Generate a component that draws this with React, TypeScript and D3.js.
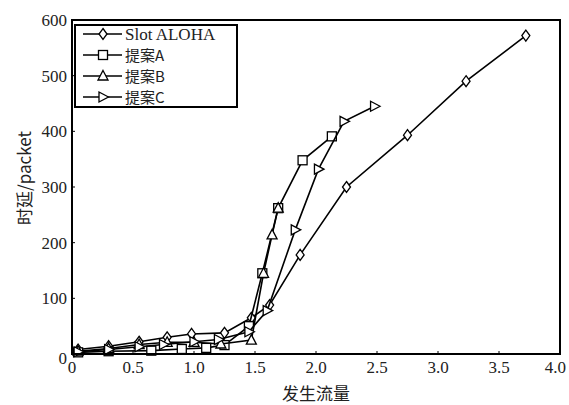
import React from "react";
import * as d3 from "d3";

const W = 569, H = 405;
const M = { left: 72, right: 560, top: 20, bottom: 354 };

const xTicks = [0, 0.5, 1.0, 1.5, 2.0, 2.5, 3.0, 3.5, 4.0];
const xTickLabels = ["0", "0.5", "1.0", "1.5", "2.0", "2.5", "3.0", "3.5", "4.0"];
const yTicks = [0, 100, 200, 300, 400, 500, 600];
const yTickLabels = ["0", "100", "200", "300", "400", "500", "600"];

const slotX = [0.05, 0.3, 0.55, 0.78, 0.98, 1.25, 1.47, 1.62, 1.87, 2.25, 2.75, 3.23, 3.72];
const slotY = [8, 14, 22, 30, 36, 38, 65, 88, 178, 300, 393, 490, 572];
const aX = [0.05, 0.3, 0.65, 0.9, 1.1, 1.25, 1.45, 1.56, 1.69, 1.89, 2.13];
const aY = [3, 5, 6, 9, 11, 16, 50, 145, 262, 348, 391];
const bX = [0.05, 0.3, 0.55, 0.78, 1.0, 1.22, 1.47, 1.57, 1.64, 1.69];
const bY = [5, 10, 17, 21, 21, 18, 25, 145, 214, 262];
const cX = [0.05, 0.3, 0.55, 0.75, 1.0, 1.2, 1.45, 1.6, 1.83, 2.02, 2.23, 2.48];
const cY = [4, 8, 13, 17, 22, 26, 40, 78, 223, 332, 418, 445];

const seriesNames = ["Slot ALOHA", "提案A", "提案B", "提案C"];
const markers = ["diamond", "square", "triangle", "tright"];

const x = d3.scaleLinear().domain([0, 4]).range([M.left, M.right]);
const y = d3.scaleLinear().domain([0, 600]).range([M.bottom, M.top]);

function Marker({ type, cx, cy }: { type: string; cx: number; cy: number }) {
  const p = { fill: "white", stroke: "black", strokeWidth: 1.3 };
  if (type === "diamond")
    return <path d={`M${cx},${cy - 5.5}L${cx + 4},${cy}L${cx},${cy + 5.5}L${cx - 4},${cy}Z`} {...p} />;
  if (type === "square")
    return <rect x={cx - 4.5} y={cy - 4.5} width={9} height={9} {...p} />;
  if (type === "triangle")
    return <path d={`M${cx},${cy - 5.5}L${cx + 5},${cy + 4}L${cx - 5},${cy + 4}Z`} {...p} />;
  return <path d={`M${cx + 5.5},${cy}L${cx - 4},${cy - 5}L${cx - 4},${cy + 5}Z`} {...p} />;
}

export default function App() {
  const series = [
    { xs: slotX, ys: slotY },
    { xs: aX, ys: aY },
    { xs: bX, ys: bY },
    { xs: cX, ys: cY },
  ];
  const line = d3
    .line<[number, number]>()
    .x((d) => x(d[0]))
    .y((d) => y(d[1]));
  const serif = "'Liberation Serif', 'DejaVu Serif', serif";
  const cjk = "'Noto Sans CJK SC', sans-serif";
  return (
    <svg
      width={W}
      height={H}
      style={{ position: "absolute", left: 0, top: 0, background: "white" }}
    >
      <rect width={W} height={H} fill="white" />
      {xTicks.map((t, i) => {
        const last = i === xTicks.length - 1;
        return (
          <g key={"xt" + i}>
            <line x1={x(t)} x2={x(t)} y1={M.bottom} y2={M.bottom - 3} stroke="black" />
            <text
              x={last ? 566 : x(t)}
              y={373}
              textAnchor={last ? "end" : "middle"}
              fontFamily={serif}
              fontSize={17}
              fill="#222"
            >
              {xTickLabels[i]}
            </text>
          </g>
        );
      })}
      {yTicks.map((t, i) => (
        <g key={"yt" + i}>
          <line x1={M.left} x2={M.left + 3} y1={y(t)} y2={y(t)} stroke="black" />
          <text
            x={67}
            y={y(t) + 6 + (t === 0 ? 4 : 0)}
            textAnchor="end"
            fontFamily={serif}
            fontSize={17}
            fill="#222"
          >
            {yTickLabels[i]}
          </text>
        </g>
      ))}
      {series.map((s, i) => {
        const pts = s.xs.map((v, j) => [v, s.ys[j]] as [number, number]);
        return (
          <g key={"s" + i}>
            <path d={line(pts) || ""} fill="none" stroke="black" strokeWidth={1.6} />
            {pts.map((p, j) => (
              <Marker key={j} type={markers[i]} cx={x(p[0])} cy={y(p[1])} />
            ))}
          </g>
        );
      })}
      <rect
        x={M.left}
        y={M.top}
        width={M.right - M.left}
        height={M.bottom - M.top}
        fill="none"
        stroke="black"
        strokeWidth={2}
      />
      <g>
        <rect x={75} y={25} width={162} height={82} fill="white" stroke="black" strokeWidth={2} />
        {seriesNames.map((n, i) => {
          const yy = 34 + i * 21;
          return (
            <g key={"lg" + i}>
              <line x1={83} x2={122} y1={yy} y2={yy} stroke="black" strokeWidth={1.6} />
              <Marker type={markers[i]} cx={103} cy={yy} />
              <text
                x={125}
                y={yy + 5.5}
                fontFamily={i === 0 ? serif : cjk}
                fontSize={i === 0 ? 17 : 15}
                fill="#222"
              >
                {n}
              </text>
            </g>
          );
        })}
      </g>
      <text x={316} y={400} textAnchor="middle" fontFamily={cjk} fontSize={17} fill="#222">
        发生流量
      </text>
      <text
        transform={`translate(31,178) rotate(-90)`}
        textAnchor="middle"
        fontFamily={cjk}
        fontSize={17}
        fill="#222"
      >
        时延/packet
      </text>
    </svg>
  );
}
